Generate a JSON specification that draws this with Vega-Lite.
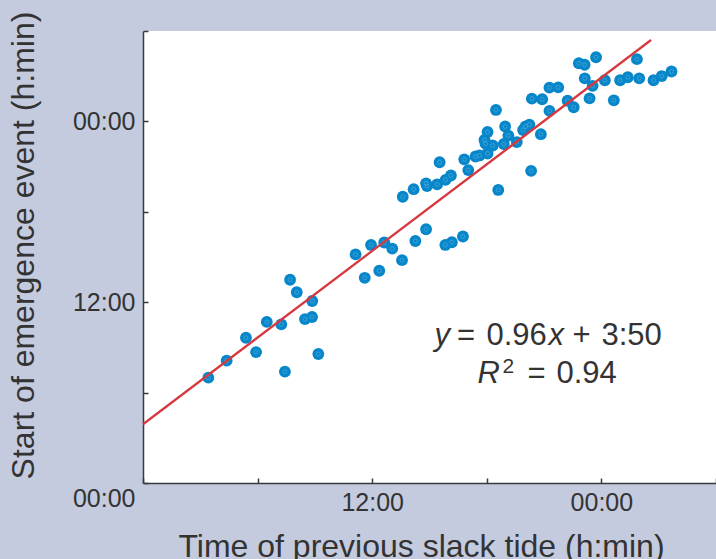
{
  "$schema": "https://vega.github.io/schema/vega-lite/v6.json",
  "width": 573,
  "height": 452,
  "autosize": {"type": "none"},
  "padding": {"left": 143, "top": 31, "right": 0, "bottom": 76},
  "background": "#c4cbdf",
  "config": {
    "view": {"stroke": null, "fill": "white"},
    "font": "Liberation Sans",
    "axis": {
      "grid": false,
      "domainColor": "#3a3a3a",
      "domainWidth": 1.5,
      "tickColor": "#3a3a3a",
      "tickWidth": 1.5,
      "labelFont": "Liberation Sans",
      "labelFontSize": 25,
      "labelColor": "#333333",
      "titleFont": "Liberation Sans",
      "titleFontSize": 32,
      "titleFontWeight": "normal",
      "titleColor": "#333333"
    },
    "text": {"font": "Liberation Sans", "color": "#333333", "baseline": "alphabetic", "align": "left"}
  },
  "datasets": {
    "points": [
      {"slack_h": 3.42, "emergence_h": 6.99}, {"slack_h": 4.38, "emergence_h": 8.12}, {"slack_h": 5.39, "emergence_h": 9.64},
      {"slack_h": 5.92, "emergence_h": 8.69}, {"slack_h": 6.48, "emergence_h": 10.69}, {"slack_h": 7.24, "emergence_h": 10.53},
      {"slack_h": 7.43, "emergence_h": 7.39}, {"slack_h": 7.70, "emergence_h": 13.49}, {"slack_h": 8.05, "emergence_h": 12.66},
      {"slack_h": 8.48, "emergence_h": 10.88}, {"slack_h": 8.85, "emergence_h": 11.02}, {"slack_h": 8.86, "emergence_h": 12.08},
      {"slack_h": 9.18, "emergence_h": 8.56}, {"slack_h": 11.13, "emergence_h": 15.17}, {"slack_h": 11.61, "emergence_h": 13.62},
      {"slack_h": 11.94, "emergence_h": 15.80}, {"slack_h": 12.37, "emergence_h": 14.09}, {"slack_h": 12.63, "emergence_h": 15.96},
      {"slack_h": 13.05, "emergence_h": 15.56}, {"slack_h": 13.56, "emergence_h": 14.79}, {"slack_h": 13.60, "emergence_h": 19.00},
      {"slack_h": 14.17, "emergence_h": 19.50}, {"slack_h": 14.26, "emergence_h": 16.06}, {"slack_h": 14.82, "emergence_h": 16.84},
      {"slack_h": 14.82, "emergence_h": 19.89}, {"slack_h": 14.87, "emergence_h": 19.71}, {"slack_h": 15.40, "emergence_h": 19.82},
      {"slack_h": 15.53, "emergence_h": 21.29}, {"slack_h": 15.84, "emergence_h": 20.12}, {"slack_h": 16.12, "emergence_h": 20.41},
      {"slack_h": 15.83, "emergence_h": 15.80}, {"slack_h": 16.17, "emergence_h": 15.98}, {"slack_h": 16.75, "emergence_h": 16.36},
      {"slack_h": 16.82, "emergence_h": 21.48}, {"slack_h": 17.03, "emergence_h": 20.77}, {"slack_h": 17.41, "emergence_h": 21.67},
      {"slack_h": 17.62, "emergence_h": 21.74}, {"slack_h": 18.04, "emergence_h": 21.87}, {"slack_h": 17.88, "emergence_h": 22.77},
      {"slack_h": 17.93, "emergence_h": 22.53}, {"slack_h": 18.31, "emergence_h": 22.40}, {"slack_h": 18.04, "emergence_h": 23.30},
      {"slack_h": 18.48, "emergence_h": 24.76}, {"slack_h": 18.60, "emergence_h": 19.45}, {"slack_h": 18.89, "emergence_h": 22.50},
      {"slack_h": 18.96, "emergence_h": 23.66}, {"slack_h": 19.13, "emergence_h": 23.06}, {"slack_h": 19.57, "emergence_h": 22.63},
      {"slack_h": 19.90, "emergence_h": 23.43}, {"slack_h": 20.03, "emergence_h": 23.66}, {"slack_h": 20.23, "emergence_h": 23.79},
      {"slack_h": 20.32, "emergence_h": 20.72}, {"slack_h": 20.83, "emergence_h": 23.15}, {"slack_h": 20.36, "emergence_h": 25.51},
      {"slack_h": 20.90, "emergence_h": 25.47}, {"slack_h": 21.28, "emergence_h": 24.70}, {"slack_h": 21.28, "emergence_h": 26.24},
      {"slack_h": 21.74, "emergence_h": 26.26}, {"slack_h": 22.23, "emergence_h": 25.37}, {"slack_h": 22.55, "emergence_h": 24.94},
      {"slack_h": 22.82, "emergence_h": 27.86}, {"slack_h": 23.12, "emergence_h": 27.76}, {"slack_h": 23.13, "emergence_h": 26.86},
      {"slack_h": 23.38, "emergence_h": 25.53}, {"slack_h": 23.54, "emergence_h": 26.36}, {"slack_h": 23.72, "emergence_h": 28.26},
      {"slack_h": 24.18, "emergence_h": 26.73}, {"slack_h": 24.65, "emergence_h": 25.40}, {"slack_h": 24.98, "emergence_h": 26.73},
      {"slack_h": 25.38, "emergence_h": 26.93}, {"slack_h": 25.86, "emergence_h": 28.13}, {"slack_h": 25.98, "emergence_h": 26.86},
      {"slack_h": 26.73, "emergence_h": 26.73}, {"slack_h": 27.16, "emergence_h": 27.01}, {"slack_h": 27.67, "emergence_h": 27.31}
    ],
    "fit": [
      {"slack_h": 0, "emergence_h": 3.9},
      {"slack_h": 26.6, "emergence_h": 29.4}
    ],
    "annotation": [
      {"label_x": 21.23, "line1_y": 9.16, "line2_y": 6.64}
    ]
  },
  "layer": [
    {
      "data": {"name": "points"},
      "mark": {"type": "circle", "size": 140, "opacity": 1, "color": "#0787ca"},
      "encoding": {
        "x": {
          "field": "slack_h", "type": "quantitative",
          "scale": {"domain": [0, 30], "nice": false, "zero": false},
          "axis": {
            "values": [0, 6, 12, 18, 24, 30],
            "labelExpr": "datum.value == 12 ? '12:00' : datum.value == 24 ? '00:00' : ''",
            "tickSize": -5,
            "labelPadding": 12,
            "labelFlush": false,
            "labelOverlap": false,
            "title": "Time of previous slack tide (h:min)",
            "titleX": 278,
            "titleY": 73,
            "titleBaseline": "alphabetic"
          }
        },
        "y": {
          "field": "emergence_h", "type": "quantitative",
          "scale": {"domain": [0, 30], "nice": false, "zero": false},
          "axis": {
            "values": [0, 6, 12, 18, 24, 30],
            "labelExpr": "datum.value == 0 ? '00:00' : datum.value == 12 ? '12:00' : datum.value == 24 ? '00:00' : ''",
            "tickSize": -5,
            "labelPadding": 13,
            "labelFlush": false,
            "labelOverlap": false,
            "labelOffset": {"condition": {"test": "datum.value === 0", "value": 15}, "value": 0},
            "title": "Start of emergence event (h:min)",
            "titleX": -110,
            "titleY": 214,
            "titleBaseline": "alphabetic",
            "titleAngle": 270
          }
        }
      }
    },
    {
      "data": {"name": "points"},
      "mark": {"type": "point", "shape": "circle", "size": 16, "filled": false, "stroke": "#55aedd", "strokeWidth": 0.8, "opacity": 0.8},
      "encoding": {
        "x": {"field": "slack_h", "type": "quantitative"},
        "y": {"field": "emergence_h", "type": "quantitative"}
      }
    },
    {
      "data": {"name": "fit"},
      "mark": {"type": "line", "color": "#d6393f", "strokeWidth": 2.3},
      "encoding": {
        "x": {"field": "slack_h", "type": "quantitative"},
        "y": {"field": "emergence_h", "type": "quantitative"}
      }
    },
    {
      "data": {"name": "annotation"},
      "encoding": {
        "x": {"field": "label_x", "type": "quantitative"},
        "y": {"field": "line1_y", "type": "quantitative"}
      },
      "layer": [
        {"mark": {"type": "text", "text": "y", "fontStyle": "italic", "fontSize": 31, "dx": -114}},
        {"mark": {"type": "text", "text": "=", "fontSize": 31, "dx": -91.5}},
        {"mark": {"type": "text", "text": "0.96", "fontSize": 31, "dx": -62}},
        {"mark": {"type": "text", "text": "x", "fontStyle": "italic", "fontSize": 31, "dx": 0}},
        {"mark": {"type": "text", "text": "+", "fontSize": 31, "dx": 24}},
        {"mark": {"type": "text", "text": "3:50", "fontSize": 31, "dx": 53}}
      ]
    },
    {
      "data": {"name": "annotation"},
      "encoding": {
        "x": {"field": "label_x", "type": "quantitative"},
        "y": {"field": "line2_y", "type": "quantitative"}
      },
      "layer": [
        {"mark": {"type": "text", "text": "R", "fontStyle": "italic", "fontSize": 31, "dx": -71}},
        {"mark": {"type": "text", "text": "2", "fontSize": 21, "dx": -46, "dy": -10}},
        {"mark": {"type": "text", "text": "=", "fontSize": 31, "dx": -21}},
        {"mark": {"type": "text", "text": "0.94", "fontSize": 31, "dx": 8}}
      ]
    }
  ]
}
